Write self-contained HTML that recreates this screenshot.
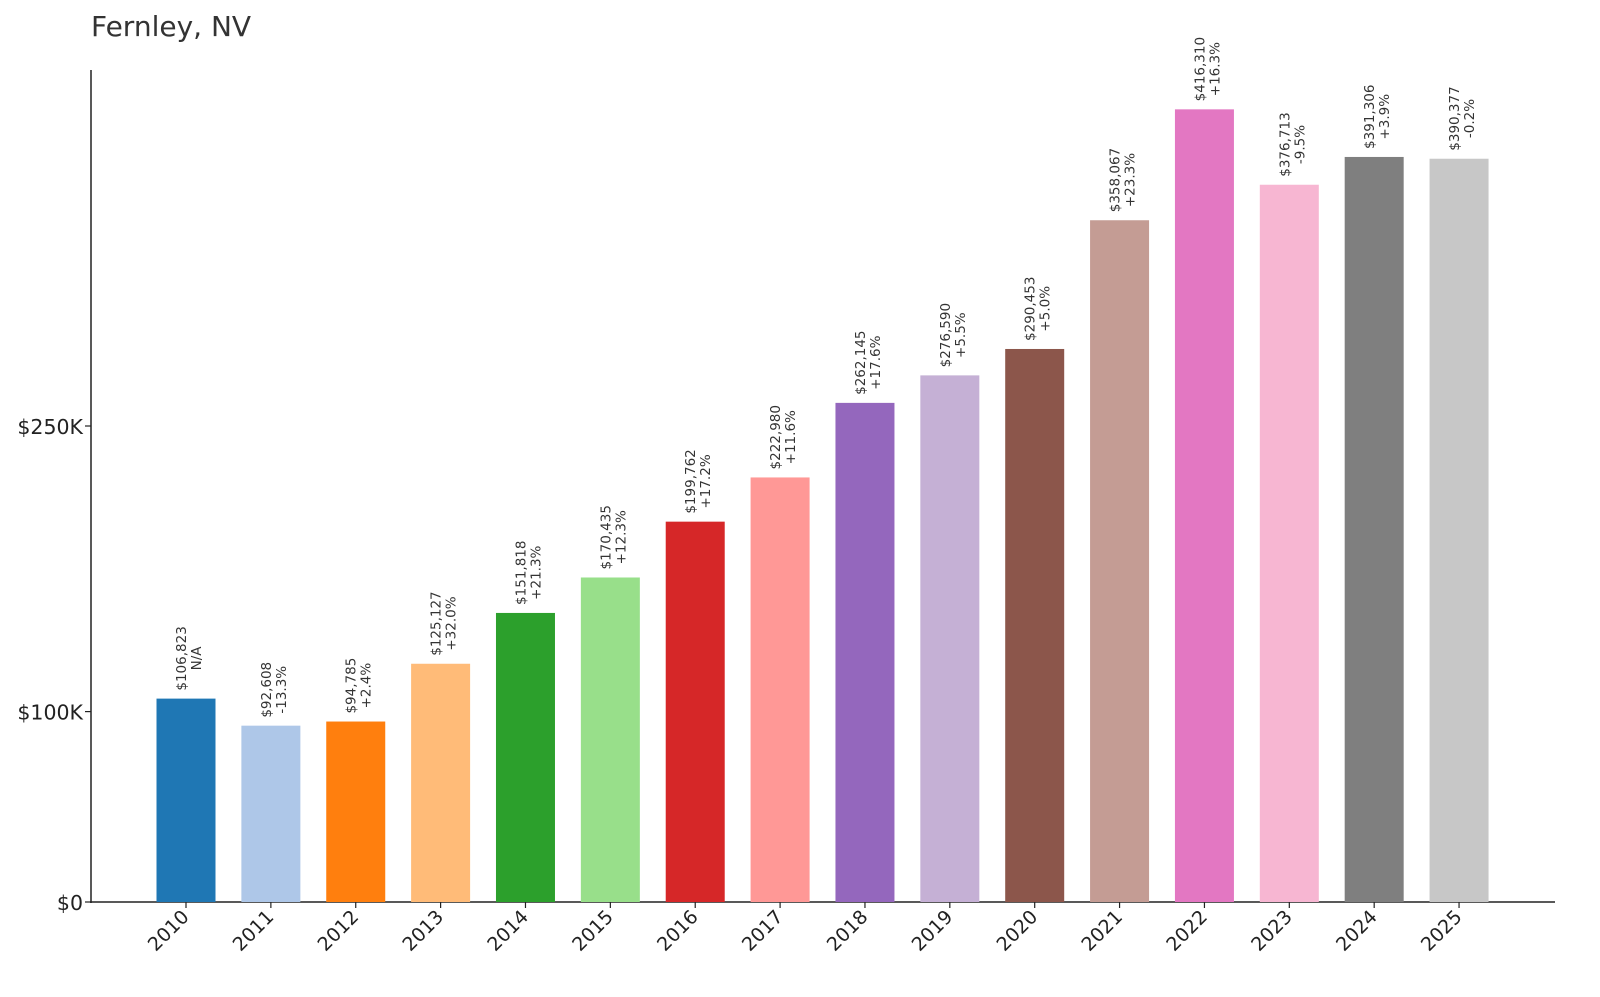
<!DOCTYPE html>
<html><head><meta charset="utf-8"><style>
body{margin:0;background:#fff;}
svg{display:block;font-family:"DejaVu Sans","Liberation Sans",sans-serif;}
</style></head><body>
<svg id="chart" width="1600" height="997" viewBox="0 0 1600 997">
<text x="91" y="36" font-size="28" fill="#333">Fernley, NV</text>
<g id="axes"></g><g id="bars"></g>
</svg>
<script>
const years=["2010","2011","2012","2013","2014","2015","2016","2017","2018","2019","2020","2021","2022","2023","2024","2025"];
const values=[106823,92608,94785,125127,151818,170435,199762,222980,262145,276590,290453,358067,416310,376713,391306,390377];
const changes=["N/A","-13.3%","+2.4%","+32.0%","+21.3%","+12.3%","+17.2%","+11.6%","+17.6%","+5.5%","+5.0%","+23.3%","+16.3%","-9.5%","+3.9%","-0.2%"];
const yTicks=[0,100000,250000];
const yTickLabels=["$0","$100K","$250K"];
const colors=["#1f77b4","#aec7e8","#ff7f0e","#ffbb78","#2ca02c","#98df8a","#d62728","#ff9896","#9467bd","#c5b0d5","#8c564b","#c49c94","#e377c2","#f7b6d2","#7f7f7f","#c7c7c7"];
const NS="http://www.w3.org/2000/svg";
const y0=902,pxPer=476/250000,x0=186,step=84.87,bw=59;
const ys=v=>y0-v*pxPer, xs=i=>x0+i*step;
const axes=document.getElementById('axes'),bars=document.getElementById('bars');
function mk(tag,attrs,parent,txt){const e=document.createElementNS(NS,tag);for(const k in attrs)e.setAttribute(k,attrs[k]);if(txt!==undefined)e.textContent=txt;parent.appendChild(e);return e;}
let e=mk('line',{x1:91,y1:70,x2:91,y2:903,stroke:'#222','stroke-width':1.5},axes);


e=mk('line',{x1:90,y1:902,x2:1555,y2:902,stroke:'#222','stroke-width':1.5},axes);


yTicks.forEach((t,i)=>{
 const y=ys(t);
 e=mk('line',{x1:85,y1:y,x2:91,y2:y,stroke:'#222','stroke-width':1.2},axes);
 
 
 e=mk('text',{x:83,y:y+8,'font-size':20.5,'text-anchor':'end',fill:'#222'},axes,yTickLabels[i]);
 
 
});
years.forEach((yr,i)=>{
 const cx=xs(i),top=ys(values[i]);
 e=mk('rect',{x:cx-bw/2,y:top,width:bw,height:y0-top,fill:colors[i]},bars);
 
 
 e=mk('line',{x1:cx,y1:902,x2:cx,y2:908,stroke:'#222','stroke-width':1.2},axes);
 
 
 e=mk('text',{x:cx+4,y:918,'font-size':19,'text-anchor':'end',fill:'#222',transform:`rotate(-45 ${cx+4} 918)`},axes,yr);
 
 
 const l1=mk('text',{'font-size':13.5,fill:'#333'},bars,'$'+values[i].toLocaleString('en-US'));
 
 
 const len=l1.getComputedTextLength()||68;
 const cy=top-8-len/2;
 l1.setAttribute('x',cx);l1.setAttribute('y',cy);l1.setAttribute('text-anchor','middle');
 l1.setAttribute('transform',`rotate(-90 ${cx} ${cy})`);
 const l2=mk('text',{x:cx+15,y:cy,'font-size':13.5,fill:'#333','text-anchor':'middle',transform:`rotate(-90 ${cx+15} ${cy})`},bars,changes[i]);
 
 
});
</script>
</body></html>
